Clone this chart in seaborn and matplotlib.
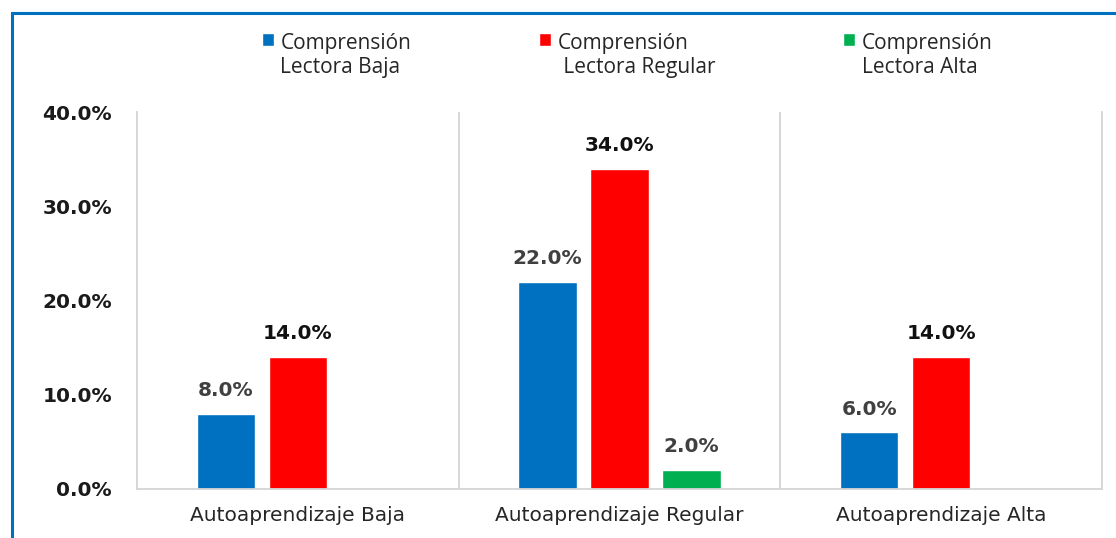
import matplotlib
matplotlib.use("Agg")
import matplotlib.pyplot as plt
import matplotlib.patches as mpatches
from matplotlib.ticker import FuncFormatter
import seaborn as sns
import pandas as pd

categories = ["Autoaprendizaje Baja", "Autoaprendizaje Regular", "Autoaprendizaje Alta"]
series = ["Comprensión\nLectora Baja", "Comprensión\n Lectora Regular", "Comprensión\nLectora Alta"]
baja = [8.0, 22.0, 6.0]
regular = [14.0, 34.0, 14.0]
alta = [0.0, 2.0, 0.0]
y_ticks = [0, 10, 20, 30, 40]

colors = ["#0070C0", "#FF0000", "#00B050"]
label_colors = ["#404040", "#111111", "#404040"]

rows = []
for s, vals in zip(series, [baja, regular, alta]):
    for c, v in zip(categories, vals):
        rows.append({"cat": c, "serie": s, "val": v})
df = pd.DataFrame(rows)

sns.set_theme(style="white")
plt.rcParams["font.family"] = ["DejaVu Sans"]

fig = plt.figure(figsize=(11.16, 5.38), dpi=100)
ax = fig.add_axes([137 / 1116, 1 - 489 / 538, (1102 - 137) / 1116, (489 - 112) / 538])

sns.barplot(data=df, x="cat", y="val", hue="serie", order=categories,
            hue_order=series, palette=colors, saturation=1, width=0.671,
            gap=0.19, ax=ax, legend=True, errorbar=None)

handles, labels = ax.get_legend_handles_labels()
ax.get_legend().remove()

for cont, lc in zip(ax.containers, label_colors):
    labs = [f"{b.get_height():.1f}%" if b.get_height() > 0 else "" for b in cont]
    ax.bar_label(cont, labels=labs, padding=10, fontsize=14.5, fontweight="bold",
                 color=lc)

ax.set_xlim(-0.5, 2.5)
ax.set_ylim(0, 40)
ax.set_yticks(y_ticks)
ax.yaxis.set_major_formatter(FuncFormatter(lambda v, p: f"{v:.1f}%"))
ax.set_xlabel("")
ax.set_ylabel("")
ax.tick_params(axis="y", length=0, pad=18, labelsize=14.5, labelcolor="#1a1a1a")
for t in ax.get_yticklabels():
    t.set_fontweight("bold")
ax.tick_params(axis="x", length=0, pad=12, labelsize=14.5, labelcolor="#262626")

ax.spines["top"].set_visible(False)
for side in ["left", "right", "bottom"]:
    ax.spines[side].set_color("#D4D4D4")
    ax.spines[side].set_linewidth(1.3)
for xv in [0.5, 1.5]:
    ax.axvline(xv, color="#D4D4D4", lw=1.3, zorder=0)

leg = fig.legend(handles, labels, loc="upper left",
                 bbox_to_anchor=(262 / 1116, 1 - 33 / 538), ncol=3, frameon=False,
                 prop={"family": "Open Sans", "size": 15},
                 handlelength=0.58, handleheight=0.58, handletextpad=0.3,
                 columnspacing=6.15, borderpad=0, borderaxespad=0, labelcolor="#262626")
for t in leg.get_texts():
    t.set_linespacing(1.17)
for col in leg._legend_handle_box.get_children():
    for row in col.get_children():
        row.align = "top"

border = mpatches.Rectangle((11.5 / 1116, -0.1), 1.2, 1.1 - 13.5 / 538,
                            transform=fig.transFigure, fill=False,
                            edgecolor="#0070C0", lw=2.2, clip_on=False)
fig.patches.append(border)

fig.savefig("out.png", dpi=100)
